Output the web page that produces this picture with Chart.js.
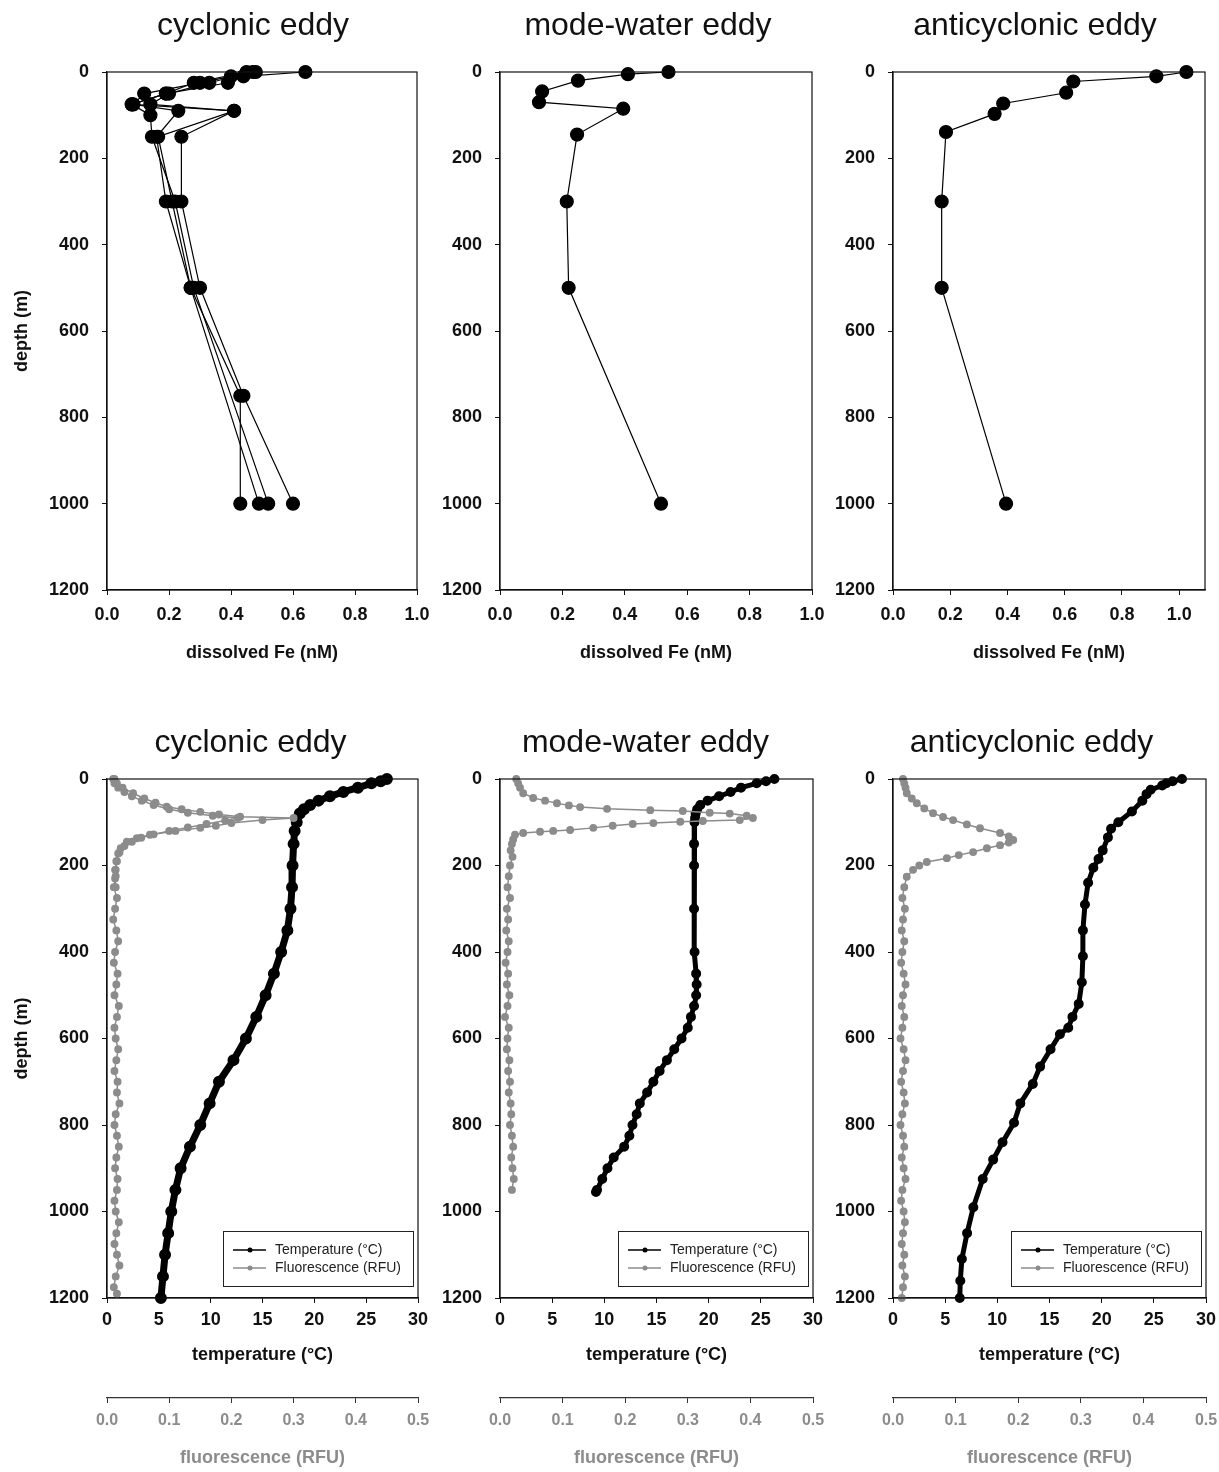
<!DOCTYPE html>
<html>
<head>
<meta charset="utf-8">
<script src="https://cdn.jsdelivr.net/npm/chart.js@4.4.1/dist/chart.umd.min.js"></script>
<style>
  body { margin: 0; background: #fff; width: 1219px; height: 1472px; position: relative; overflow: hidden; }
  canvas { position: absolute; }
</style>
</head>
<body>
<canvas id="feCyc" width="432" height="675" style="left:0;top:0"></canvas>
<canvas id="feMode" width="433" height="675" style="left:393px;top:0"></canvas>
<canvas id="feAnti" width="433" height="675" style="left:786px;top:0"></canvas>
<canvas id="ctdCyc" width="432" height="772" style="left:0;top:700px"></canvas>
<canvas id="ctdMode" width="433" height="772" style="left:393px;top:700px"></canvas>
<canvas id="ctdAnti" width="433" height="772" style="left:786px;top:700px"></canvas>
<script>
// ---- dissolved Fe, cyclonic eddy (4 casts) ----
const cycFeDepth1 = [0, 10, 25, 50, 75, 90, 150, 300, 500, 750, 1000];
const cycFe1 = [0.64, 0.44, 0.39, 0.19, 0.08, 0.41, 0.165, 0.21, 0.27, 0.43, 0.43];
const cycFeDepth2 = [0, 25, 50, 75, 90, 150, 300, 500, 750, 1000];
const cycFe2 = [0.47, 0.33, 0.20, 0.14, 0.41, 0.24, 0.24, 0.30, 0.44, 0.60];
const cycFeDepth3 = [0, 10, 25, 50, 75, 90, 150, 300, 500, 1000];
const cycFe3 = [0.48, 0.40, 0.30, 0.12, 0.085, 0.23, 0.16, 0.19, 0.27, 0.49];
const cycFeDepth4 = [0, 25, 50, 75, 100, 150, 300, 500, 1000];
const cycFe4 = [0.45, 0.28, 0.19, 0.08, 0.14, 0.145, 0.22, 0.28, 0.52];

// ---- dissolved Fe, mode-water and anticyclonic eddies ----
const modeFeDepth = [0, 5, 20, 45, 70, 85, 145, 300, 500, 1000];
const modeFe = [0.54, 0.41, 0.25, 0.135, 0.125, 0.395, 0.247, 0.214, 0.22, 0.516];
const antiFeDepth = [0, 10, 22, 48, 73, 97, 139, 300, 500, 1000];
const antiFe = [1.025, 0.92, 0.63, 0.605, 0.385, 0.355, 0.185, 0.17, 0.17, 0.395];

// ---- CTD temperature ----
const cycTempDepth = [0, 5, 10, 20, 30, 40, 50, 60, 70, 80, 100, 120, 150, 200, 250, 300, 350, 400, 450, 500, 550, 600, 650, 700, 750, 800, 850, 900, 950, 1000, 1050, 1100, 1150, 1200];
const cycTemp = [27.0, 26.4, 25.5, 24.2, 22.8, 21.5, 20.4, 19.6, 19.0, 18.6, 18.3, 18.1, 18.0, 17.9, 17.85, 17.7, 17.4, 16.8, 16.1, 15.3, 14.4, 13.4, 12.2, 10.8, 9.9, 9.0, 8.0, 7.1, 6.6, 6.2, 5.9, 5.6, 5.4, 5.2];
const modeTempDepth = [0, 5, 10, 20, 30, 40, 50, 60, 70, 80, 90, 100, 150, 200, 300, 400, 450, 475, 500, 525, 550, 575, 600, 625, 650, 675, 700, 725, 750, 775, 800, 825, 850, 875, 900, 925, 950, 955];
const modeTemp = [26.3, 25.5, 24.6, 23.1, 22.1, 21.0, 19.9, 19.2, 18.9, 18.75, 18.7, 18.65, 18.6, 18.6, 18.6, 18.65, 18.8, 18.85, 18.8, 18.6, 18.3, 18.0, 17.4, 16.7, 16.0, 15.3, 14.7, 14.1, 13.4, 13.1, 12.7, 12.4, 11.9, 10.9, 10.3, 9.8, 9.3, 9.2];
const antiTempDepth = [0, 5, 10, 15, 25, 35, 50, 75, 100, 115, 135, 165, 185, 205, 240, 290, 350, 410, 470, 520, 550, 575, 590, 625, 665, 705, 750, 795, 840, 880, 925, 990, 1050, 1110, 1160, 1200];
const antiTemp = [27.7, 26.8, 26.2, 25.8, 24.7, 24.3, 23.9, 22.9, 21.6, 20.9, 20.6, 20.1, 19.7, 19.2, 18.7, 18.4, 18.2, 18.2, 18.1, 17.8, 17.2, 16.8, 16.0, 15.1, 14.1, 13.4, 12.2, 11.6, 10.5, 9.6, 8.6, 7.7, 7.1, 6.6, 6.45, 6.4];

// ---- CTD fluorescence ----
const cycFluDepthA = [0, 10, 20, 33, 45, 55, 64, 70, 76, 82, 87, 90, 95, 102, 108, 113, 120, 129, 137, 145, 160, 172, 190, 210,
  225, 250, 275, 300, 325, 350, 375, 400, 425, 450, 475, 500, 525, 550, 575, 600, 625, 650, 675, 700,
  725, 750, 775, 800, 825, 850, 875, 900, 925, 950, 975, 1000, 1025, 1050, 1075, 1100, 1125, 1150, 1175, 1190];
const cycFluA = [0.012, 0.016, 0.025, 0.042, 0.060, 0.078, 0.096, 0.12, 0.15, 0.18, 0.214, 0.30, 0.25, 0.20, 0.175, 0.15, 0.11, 0.069, 0.048, 0.032, 0.022, 0.018, 0.015, 0.013,
  0.014, 0.011, 0.016, 0.013, 0.010, 0.015, 0.018, 0.013, 0.011, 0.017, 0.015, 0.012, 0.019, 0.016, 0.012, 0.014, 0.018, 0.015, 0.012, 0.017,
  0.016, 0.020, 0.014, 0.012, 0.016, 0.019, 0.015, 0.013, 0.017, 0.016, 0.012, 0.014, 0.019, 0.015, 0.012, 0.016, 0.020, 0.014, 0.011, 0.016];
const cycFluDepthB = [0, 10, 20, 30, 40, 50, 60, 70, 78, 85, 90, 96, 104, 112, 120, 128, 136, 145, 155, 170, 190, 210, 230, 250];
const cycFluB = [0.010, 0.012, 0.018, 0.028, 0.040, 0.056, 0.075, 0.10, 0.13, 0.17, 0.21, 0.19, 0.16, 0.13, 0.10, 0.075, 0.055, 0.04, 0.028, 0.02, 0.016, 0.014, 0.013, 0.014];
const modeFluDepth = [0, 10, 20, 33, 44, 50, 56, 61, 65, 69, 72, 74, 78, 80, 85, 90, 95, 97, 99, 102, 104, 108, 113, 118, 120, 122, 125, 129, 140, 150, 165, 180, 200,
  225, 250, 275, 300, 325, 350, 375, 400, 425, 450, 475, 500, 525, 550, 575, 600, 625, 650, 675, 700, 725, 750, 775, 800, 825, 850, 875, 900, 925, 950];
const modeFlu = [0.026, 0.029, 0.032, 0.037, 0.053, 0.072, 0.091, 0.11, 0.128, 0.171, 0.24, 0.292, 0.335, 0.367, 0.394, 0.404, 0.383, 0.324, 0.288, 0.245, 0.212, 0.18, 0.149, 0.112, 0.085, 0.064, 0.037, 0.024, 0.021, 0.019, 0.017, 0.02, 0.016,
  0.014, 0.012, 0.016, 0.011, 0.013, 0.010, 0.014, 0.012, 0.009, 0.013, 0.011, 0.015, 0.012, 0.008, 0.014, 0.012, 0.011, 0.015, 0.013, 0.016, 0.014, 0.017, 0.018, 0.016, 0.019, 0.021, 0.018, 0.020, 0.022, 0.019];
const antiFluDepth = [0, 10, 20, 33, 45, 56, 68, 79, 88, 95, 105, 114, 125, 133, 141, 147, 153, 160, 169, 176, 183, 192, 200, 210, 226,
  250, 275, 300, 325, 350, 375, 400, 425, 450, 475, 500, 525, 550, 575, 600, 625, 650, 675, 700, 725, 750, 775, 800, 825, 850,
  875, 900, 925, 950, 975, 1000, 1025, 1050, 1075, 1100, 1125, 1150, 1175, 1200];
const antiFlu = [0.016, 0.018, 0.02, 0.022, 0.03, 0.038, 0.05, 0.064, 0.08, 0.096, 0.118, 0.139, 0.171, 0.185, 0.192, 0.185, 0.171, 0.15, 0.128, 0.105, 0.086, 0.054, 0.042, 0.032, 0.022,
  0.018, 0.015, 0.019, 0.016, 0.014, 0.018, 0.015, 0.013, 0.017, 0.02, 0.016, 0.014, 0.018, 0.015, 0.012, 0.017, 0.02, 0.016, 0.013, 0.017, 0.019, 0.015, 0.012, 0.016, 0.018,
  0.014, 0.017, 0.02, 0.015, 0.013, 0.017, 0.019, 0.016, 0.014, 0.018, 0.015, 0.019, 0.016, 0.014];

const feTicks = [0, 0.2, 0.4, 0.6, 0.8, 1.0];
const FONT = "'Liberation Sans', Arial, sans-serif";
const GREY = '#8c8c8c';

Chart.defaults.font.family = FONT;
Chart.defaults.color = '#111';

const pts = (xs, ds) => xs.map((v, i) => ({ x: v, y: ds[i] }));

// box round the plot area
const frame = {
  id: 'frame',
  afterDatasetsDraw(chart) {
    const { ctx, chartArea: a } = chart;
    ctx.save();
    ctx.strokeStyle = '#111';
    ctx.lineWidth = 1.2;
    ctx.strokeRect(a.left, a.top, a.right - a.left, a.bottom - a.top);
    ctx.restore();
  }
};

// titles in the reference sit a little left of the plot centre
const titleShift = {
  id: 'titleShift',
  afterLayout(chart, args, opts) {
    const t = chart.titleBlock;
    if (!t || !opts.dx) return;
    t.left += opts.dx;
    t.right += opts.dx;
  }
};

// legend box in lower right of the plot area
const boxLegend = {
  id: 'boxLegend',
  afterDraw(chart, args, opts) {
    if (!opts.show) return;
    const { ctx, chartArea: a } = chart;
    const items = chart.data.datasets.filter(d => !d.hideInLegend);
    const w = 190, h = 55;
    const x0 = a.right - 5 - w, y0 = a.bottom - 12 - h;
    ctx.save();
    ctx.fillStyle = '#fff';
    ctx.fillRect(x0, y0, w, h);
    ctx.strokeStyle = '#222';
    ctx.lineWidth = 1;
    ctx.strokeRect(x0 + 0.5, y0 + 0.5, w, h);
    ctx.font = '14px ' + FONT;
    ctx.textBaseline = 'middle';
    items.forEach((d, i) => {
      const y = y0 + 19 + i * 18;
      ctx.strokeStyle = d.legendColor;
      ctx.lineWidth = 1.5;
      ctx.beginPath();
      ctx.moveTo(x0 + 10, y);
      ctx.lineTo(x0 + 43, y);
      ctx.stroke();
      ctx.fillStyle = d.legendColor;
      ctx.beginPath();
      ctx.arc(x0 + 27, y, 2.5, 0, Math.PI * 2);
      ctx.fill();
      ctx.fillStyle = '#222';
      ctx.fillText(d.label, x0 + 52, y);
    });
    ctx.restore();
  }
};

// fixed box sizes so every plot area lands where the reference has it;
// label overhang is left to the layout padding
const fixHeight = h => s => { s.height = h; s.paddingLeft = 0; s.paddingRight = 0; };

function depthAxis(showTitle) {
  return {
    type: 'linear',
    reverse: true,
    min: 0,
    max: 1200,
    afterFit: s => { s.width = 107; },
    border: { color: '#111', width: 1.2 },
    grid: { drawOnChartArea: false, tickLength: 5, color: '#111' },
    ticks: { stepSize: 200, padding: 13, color: '#111', font: { size: 18, weight: 'bold' }, callback: v => String(v) },
    title: { display: showTitle, text: 'depth (m)', color: '#111', font: { size: 18, weight: 'bold' }, padding: { top: 11, bottom: 0 } }
  };
}

function titleOpts(text, top, bottom) {
  return { display: true, text, fullSize: false, color: '#111', font: { size: 32, weight: 'normal' }, padding: { top, bottom } };
}

function feChart(id, title, casts, xMax, showDepth, rightPad, dx) {
  const datasets = casts.map(c => ({
    data: pts(c[1], c[0]),
    showLine: true,
    borderColor: '#000',
    borderWidth: 1.2,
    pointRadius: 6.5,
    pointBackgroundColor: '#000',
    pointBorderColor: '#000',
    clip: false
  }));
  new Chart(document.getElementById(id), {
    type: 'scatter',
    data: { datasets },
    options: {
      responsive: false,
      animation: false,
      layout: { padding: { left: 0, top: 0, right: rightPad, bottom: 0 } },
      plugins: {
        legend: { display: false },
        tooltip: { enabled: false },
        title: titleOpts(title, 7, 26.6),
        titleShift: { dx }
      },
      scales: {
        x: {
          type: 'linear',
          min: 0,
          max: xMax,
          afterFit: fixHeight(85),
          afterBuildTicks: s => { s.ticks = feTicks.map(v => ({ value: v })); },
          border: { color: '#111', width: 1.2 },
          grid: { drawOnChartArea: false, tickLength: 5, color: '#111' },
          ticks: { padding: 9, color: '#111', font: { size: 18, weight: 'bold' }, callback: v => v.toFixed(1) },
          title: { display: true, text: 'dissolved Fe (nM)', color: '#111', font: { size: 18, weight: 'bold' }, padding: { top: 0, bottom: 11 } }
        },
        y: depthAxis(showDepth)
      }
    },
    plugins: [frame, titleShift]
  });
}

function ctdChart(id, title, temp, tempDepth, fluCasts, tempWidth, showDepth, rightPad, dx) {
  const datasets = [{
    label: 'Temperature (°C)',
    data: pts(temp, tempDepth),
    xAxisID: 'x',
    showLine: true,
    borderColor: '#000',
    borderWidth: tempWidth,
    pointRadius: 2.5,
    pointBackgroundColor: '#000',
    pointBorderColor: '#000',
    legendColor: '#000',
    order: 1,
    clip: false
  }];
  fluCasts.forEach((c, i) => {
    datasets.push({
      label: 'Fluorescence (RFU)',
      data: pts(c[1], c[0]),
      xAxisID: 'x2',
      showLine: true,
      borderColor: GREY,
      borderWidth: 1.5,
      pointRadius: 3.2,
      pointBackgroundColor: GREY,
      pointBorderColor: GREY,
      legendColor: GREY,
      hideInLegend: i > 0,
      order: 0,
      clip: false
    });
  });
  new Chart(document.getElementById(id), {
    type: 'scatter',
    data: { datasets },
    options: {
      responsive: false,
      animation: false,
      layout: { padding: { left: 0, top: 0, right: rightPad, bottom: 0 } },
      plugins: {
        legend: { display: false },
        tooltip: { enabled: false },
        title: titleOpts(title, 24, 16.6),
        titleShift: { dx },
        boxLegend: { show: true }
      },
      scales: {
        x: {
          type: 'linear',
          position: 'bottom',
          weight: 0,
          min: 0,
          max: 30,
          afterFit: fixHeight(100),
          border: { color: '#111', width: 1.2 },
          grid: { drawOnChartArea: false, tickLength: 5, color: '#111' },
          ticks: { stepSize: 5, padding: 6, color: '#111', font: { size: 18, weight: 'bold' } },
          title: { display: true, text: 'temperature (°C)', color: '#111', font: { size: 18, weight: 'bold' }, padding: { top: 0, bottom: 32 } }
        },
        x2: {
          type: 'linear',
          position: 'bottom',
          weight: 1,
          min: 0,
          max: 0.5,
          afterFit: fixHeight(74),
          border: { color: '#333', width: 1.2 },
          grid: { drawOnChartArea: false, tickLength: 5, color: '#333' },
          ticks: { stepSize: 0.1, padding: 8, color: GREY, font: { size: 16, weight: 'bold' }, callback: v => v.toFixed(1) },
          title: { display: true, text: 'fluorescence (RFU)', color: GREY, font: { size: 18, weight: 'bold' }, padding: { top: 0, bottom: 3 } }
        },
        y: depthAxis(showDepth)
      }
    },
    plugins: [frame, titleShift, boxLegend]
  });
}

feChart('feCyc', 'cyclonic eddy',
  [[cycFeDepth1, cycFe1], [cycFeDepth2, cycFe2], [cycFeDepth3, cycFe3], [cycFeDepth4, cycFe4]], 1.0, true, 15, -9);
feChart('feMode', 'mode-water eddy', [[modeFeDepth, modeFe]], 1.0, false, 14, -8);
feChart('feAnti', 'anticyclonic eddy', [[antiFeDepth, antiFe]], 1.09, false, 14, -14);

ctdChart('ctdCyc', 'cyclonic eddy', cycTemp, cycTempDepth,
  [[cycFluDepthA, cycFluA], [cycFluDepthB, cycFluB]], 7, true, 14, -12);
ctdChart('ctdMode', 'mode-water eddy', modeTemp, modeTempDepth, [[modeFluDepth, modeFlu]], 5, false, 13, -11);
ctdChart('ctdAnti', 'anticyclonic eddy', antiTemp, antiTempDepth, [[antiFluDepth, antiFlu]], 5, false, 13, -18);
</script>
</body>
</html>
